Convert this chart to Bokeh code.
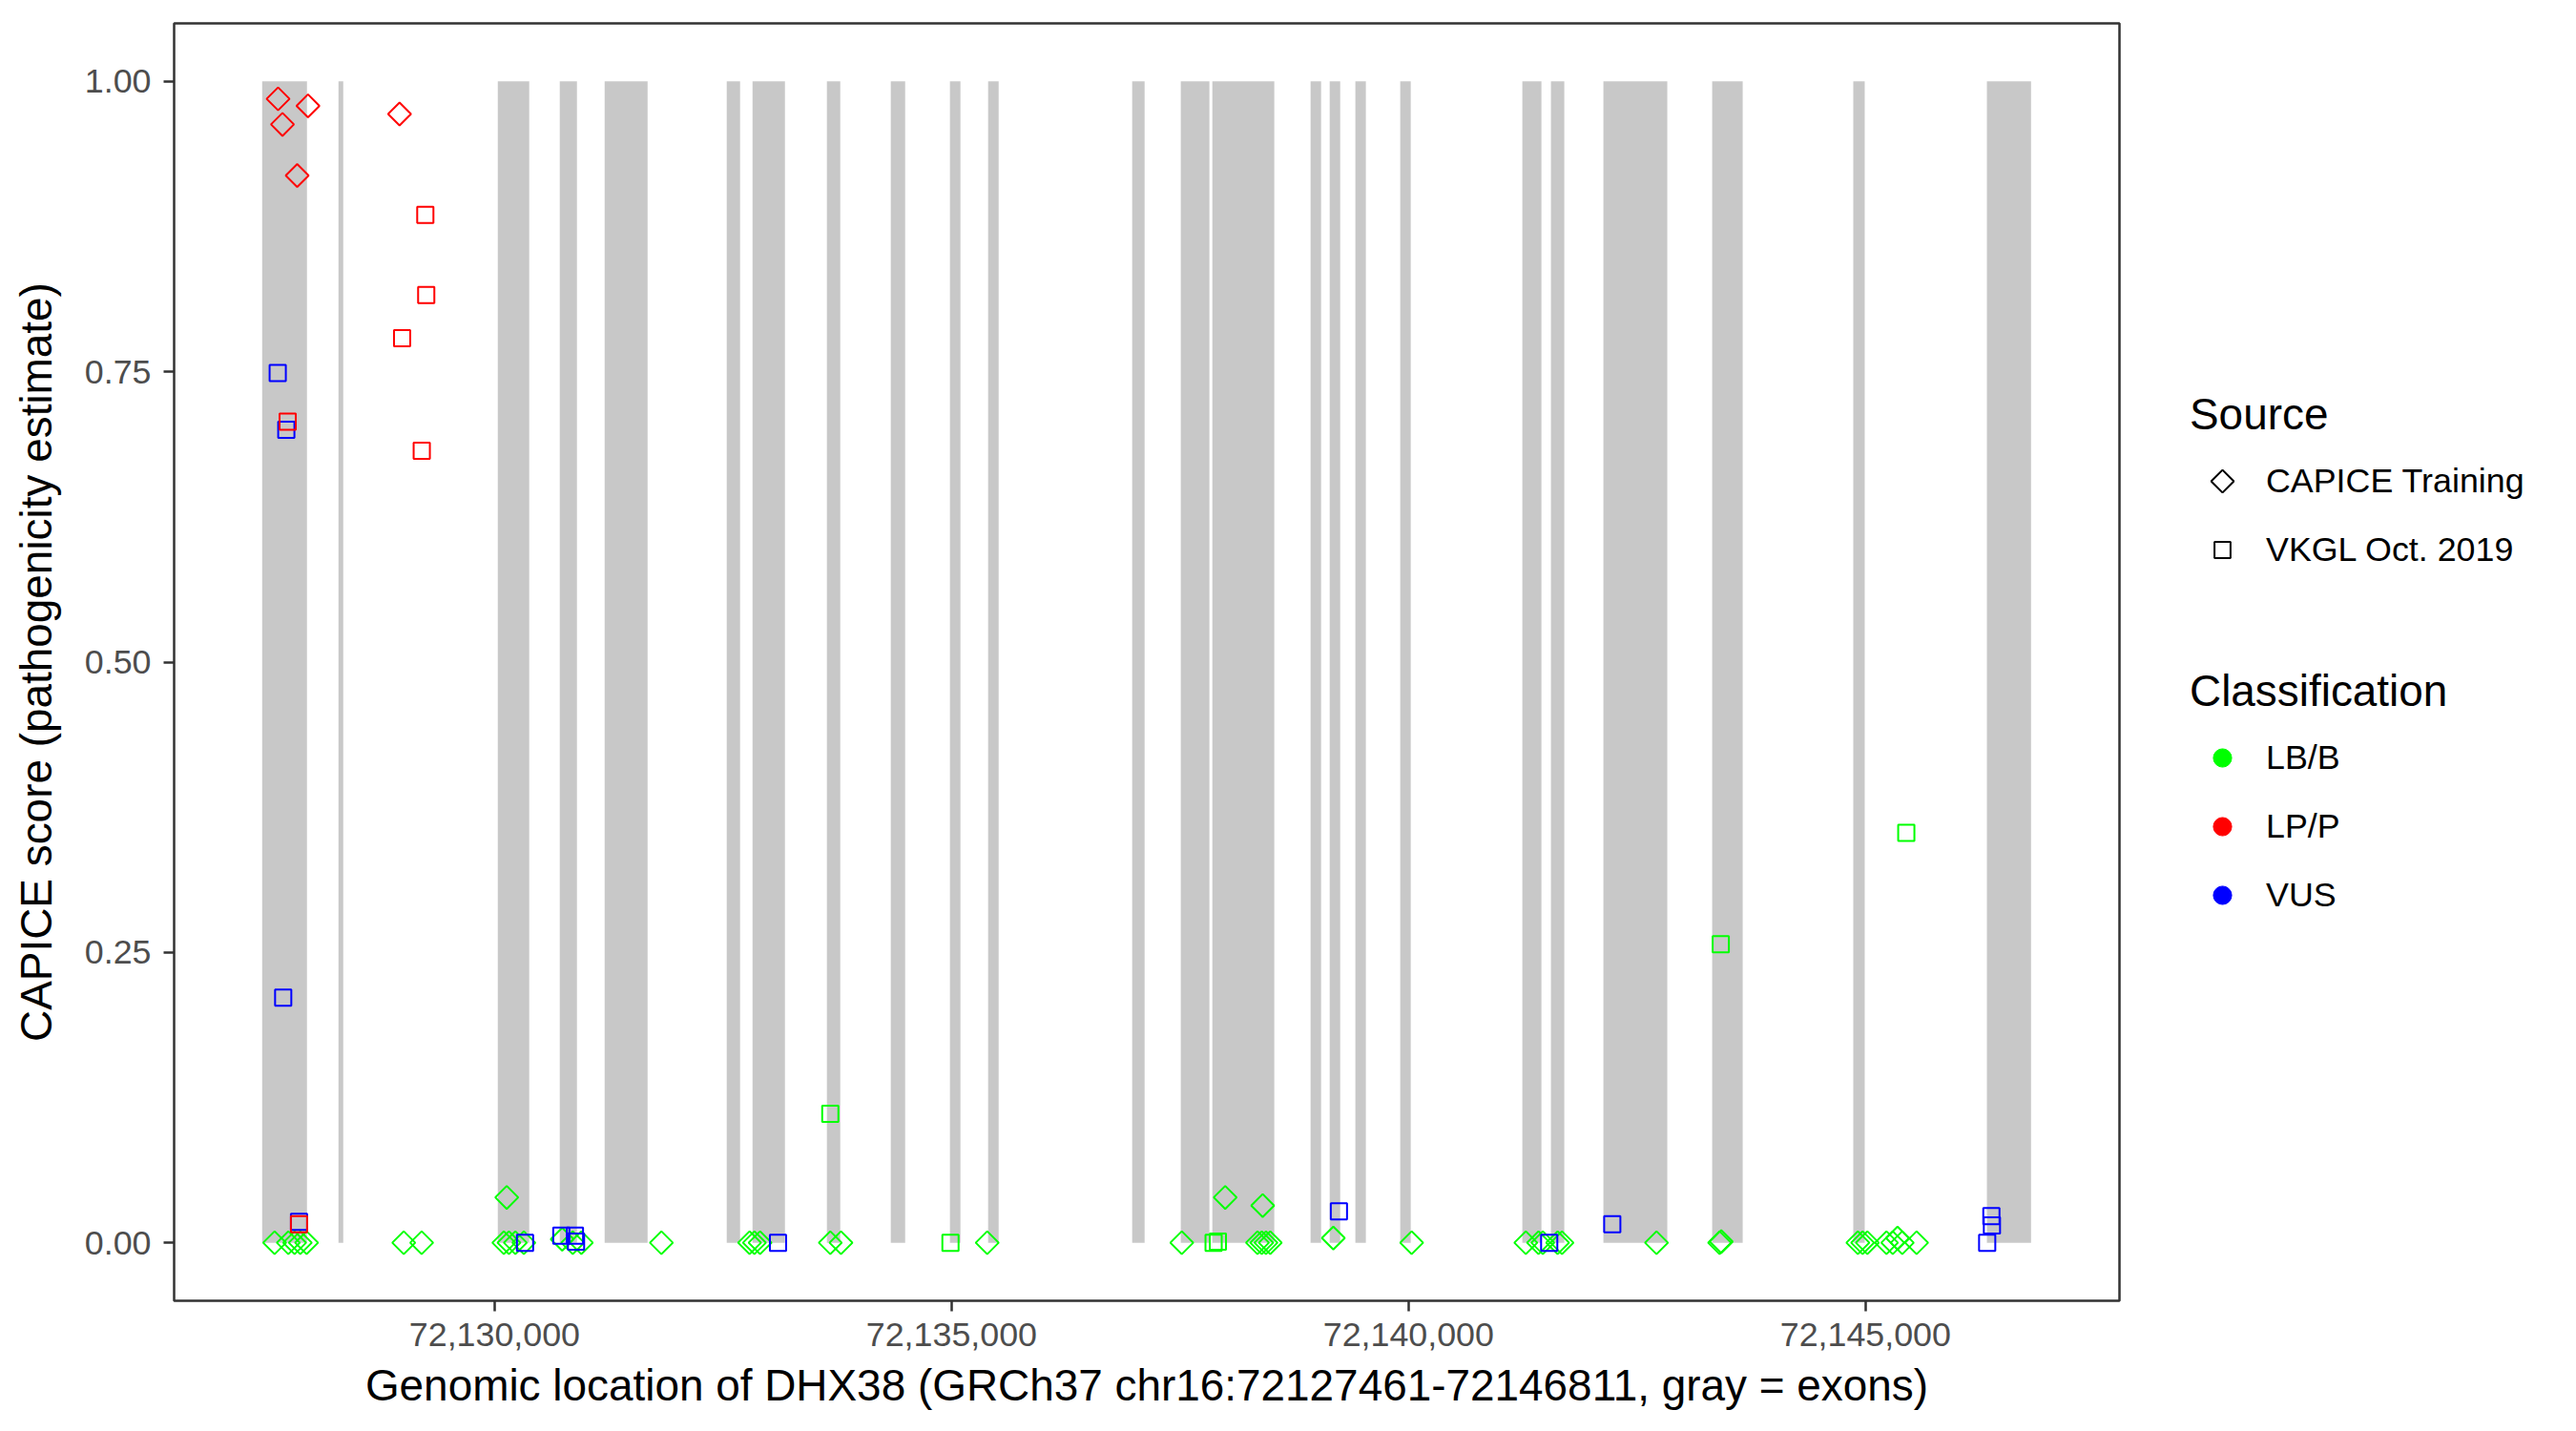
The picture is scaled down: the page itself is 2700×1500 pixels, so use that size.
import math
from bokeh.plotting import figure
from bokeh.layouts import row
from bokeh.models import (FixedTicker, NumeralTickFormatter,
                          PrintfTickFormatter, Range1d, Legend, LegendItem)
from bokeh.embed import file_html
from bokeh.resources import INLINE

# ---------------- data ----------------
gene_start = 72127461
gene_end = 72146811

exon_start = [72127457, 72128292, 72130035, 72130713, 72131204, 72132540, 72132822,
              72133636, 72134335, 72134982, 72135400, 72136976, 72137508, 72137853,
              72138928, 72139137, 72139418, 72139909, 72141245, 72141558, 72142132,
              72143322, 72144866, 72146328]
exon_end = [72127947, 72128344, 72130379, 72130901, 72131674, 72132686, 72133177,
            72133782, 72134492, 72135097, 72135515, 72137112, 72137821, 72138531,
            72139043, 72139252, 72139533, 72140024, 72141454, 72141704, 72142831,
            72143656, 72144991, 72146811]

var_pos = [
    # CAPICE Training, LB/B
    72127593, 72127743, 72127812, 72127874, 72127943, 72129006, 72129202, 72130133,
    72130101, 72130157, 72130227, 72130320, 72130740, 72130855, 72130949, 72131825,
    72132790, 72132843, 72132905, 72133673, 72133790, 72135390, 72137519, 72137994,
    72138404, 72138347, 72138394, 72138440, 72138487, 72139177, 72140034, 72141283,
    72141422, 72141469, 72141631, 72141679, 72142713, 72143403, 72143421, 72144916,
    72144968, 72145020, 72145229, 72145298, 72145350, 72145402, 72145559,
    # CAPICE Training, LP/P
    72127631, 72127958, 72127679, 72127840, 72128960,
    # VKGL, LB/B
    72133673, 72134988, 72137867, 72137914, 72143416, 72145446,
    # VKGL, VUS
    72127627, 72127721, 72127687, 72127860, 72130333, 72130730, 72130879, 72130891,
    72133101, 72139238, 72141539, 72142229, 72146377, 72146383, 72146331,
    # VKGL, LP/P
    72129242, 72129252, 72128988, 72129203, 72127736, 72127860,
]
var_score = [
    0.0, 0.0, 0.0, 0.0, 0.0, 0.0, 0.0, 0.039,
    0.0, 0.0, 0.0, 0.0, 0.003, 0.0, 0.0, 0.0,
    0.0, 0.0, 0.0, 0.0, 0.0, 0.0, 0.0, 0.039,
    0.032, 0.0, 0.0, 0.0, 0.0, 0.004, 0.0, 0.0,
    0.0, 0.0, 0.0, 0.0, 0.0, 0.0, 0.001, 0.0,
    0.0, 0.0, 0.0, 0.0, 0.004, 0.0, 0.0,
    0.985, 0.979, 0.963, 0.919, 0.972,
    0.111, 0.0, 0.0, 0.001, 0.257, 0.353,
    0.749, 0.700, 0.211, 0.018, 0.0, 0.006, 0.006, 0.001,
    0.0, 0.027, 0.0, 0.016, 0.023, 0.015, 0.0,
    0.885, 0.816, 0.779, 0.682, 0.707, 0.016,
]
var_source = (["CAPICE Training"] * 52 + ["VKGL Oct. 2019"] * 27)
var_class = (["LB/B"] * 47 + ["LP/P"] * 5 + ["LB/B"] * 6 + ["VUS"] * 15 + ["LP/P"] * 6)

sources = ["CAPICE Training", "VKGL Oct. 2019"]
classes = ["LB/B", "LP/P", "VUS"]
class_colors = {"LB/B": "#00FF00", "LP/P": "#FF0000", "VUS": "#0000FF"}
source_angle = {"CAPICE Training": math.pi / 4, "VKGL Oct. 2019": 0.0}

FONT = "Liberation Sans"
TICK_SIZE = "35.8px"
TITLE_SIZE = "45.9px"

# ---------------- main figure ----------------
W_MAIN, H = 2230, 1480
B_LEFT, B_RIGHT, B_TOP, B_BOTTOM = 182, 9, 24, 117
span = gene_end - gene_start
p = figure(width=W_MAIN, height=H, output_backend="svg", toolbar_location=None,
           x_range=Range1d(gene_start - 0.05 * span, gene_end + 0.05 * span),
           y_range=Range1d(-0.05, 1.05),
           min_border_left=B_LEFT, min_border_right=B_RIGHT,
           min_border_top=B_TOP, min_border_bottom=B_BOTTOM)
p.xgrid.visible = False
p.ygrid.visible = False
p.outline_line_color = "#333333"
p.outline_line_width = 2.5
p.background_fill_color = "white"
p.border_fill_color = "white"

# exons
p.quad(left=exon_start, right=exon_end, bottom=0, top=1,
       fill_color="#C8C8C8", line_color=None)

# variants (draw green, then blue, then red)
for cls in ["LB/B", "VUS", "LP/P"]:
    for src in sources:
        xs = [x for x, s, c in zip(var_pos, var_source, var_class) if s == src and c == cls]
        ys = [y for y, s, c in zip(var_score, var_source, var_class) if s == src and c == cls]
        if not xs:
            continue
        p.scatter(x=xs, y=ys, marker="square", size=17, angle=source_angle[src],
                  fill_color=None, line_color=class_colors[cls], line_width=2)

# axes
p.xaxis.ticker = FixedTicker(ticks=[72130000, 72135000, 72140000, 72145000])
p.xaxis.formatter = NumeralTickFormatter(format="0,0")
p.yaxis.ticker = FixedTicker(ticks=[0, 0.25, 0.5, 0.75, 1.0])
p.yaxis.formatter = PrintfTickFormatter(format="%.2f")
p.xaxis.axis_label = "Genomic location of DHX38 (GRCh37 chr16:72127461-72146811, gray = exons)"
p.yaxis.axis_label = "CAPICE score (pathogenicity estimate)"
for ax in (p.xaxis[0], p.yaxis[0]):
    ax.axis_line_color = None
    ax.major_tick_line_color = "#333333"
    ax.major_tick_line_width = 2.5
    ax.major_tick_out = 11
    ax.major_tick_in = 0
    ax.minor_tick_line_color = None
    ax.major_label_text_font = FONT
    ax.major_label_text_font_size = TICK_SIZE
    ax.major_label_text_color = "#4D4D4D"
    ax.axis_label_text_font = FONT
    ax.axis_label_text_font_size = TITLE_SIZE
    ax.axis_label_text_font_style = "normal"
    ax.axis_label_text_color = "black"
p.xaxis.major_label_standoff = 12
p.xaxis.axis_label_standoff = 12
p.yaxis.major_label_standoff = 13
p.yaxis.axis_label_standoff = 22

# ---------------- legend panel ----------------
# (its frame is aligned with the main frame by the row layout; ranges in pixels)
W_LEG = 450
FRAME_H = H - B_TOP - B_BOTTOM
lf = figure(width=W_LEG, height=H, output_backend="svg", toolbar_location=None,
            x_range=Range1d(0, W_LEG), y_range=Range1d(0, FRAME_H),
            x_axis_location=None, y_axis_location=None,
            min_border_left=0, min_border_right=0, min_border_top=B_TOP,
            min_border_bottom=B_BOTTOM)
lf.xgrid.visible = False
lf.ygrid.visible = False
lf.outline_line_color = None
lf.border_fill_color = "white"
lf.background_fill_color = "white"

LEG_X = 65
GLYPH_W, GLYPH_H, SPACING = 68, 42, 30
SRC_LEG_Y = 766
CLS_GLYPH_H, CLS_SPACING = 48, 24
CLS_LEG_Y = 401

NAN = [float("nan")]  # legend-key placeholders: one undrawable point each
src_items = []
for src in sources:
    # Bokeh legends ignore marker angle, so the rotated (diamond) key is drawn
    # separately below and its legend renderer is left transparent.
    alpha = 0.0 if source_angle[src] else 1.0
    r = lf.scatter(x=NAN, y=NAN, marker="square", size=17,
                   fill_color=None, line_color="black", line_width=2, line_alpha=alpha)
    src_items.append(LegendItem(label=src, renderers=[r]))

# rotated key for the first "Source" entry, at the centre of its legend glyph box
key_x = LEG_X + GLYPH_W / 2
key_y = SRC_LEG_Y + (len(sources) - 1) * (GLYPH_H + SPACING) + GLYPH_H / 2
lf.scatter(x=[key_x], y=[key_y], marker="square", angle=source_angle[sources[0]],
           size=0.4 * min(GLYPH_W, GLYPH_H), fill_color=None, line_color="black", line_width=2)

cls_items = []
for cls in classes:
    r = lf.scatter(x=NAN, y=NAN, marker="circle", size=18,
                   fill_color=class_colors[cls], line_color=class_colors[cls])
    cls_items.append(LegendItem(label=cls, renderers=[r]))


def make_legend(title, items, loc, glyph_h, spacing, title_standoff):
    lg = Legend(title=title, items=items, location=loc)
    lg.title_text_font = FONT
    lg.title_text_font_size = TITLE_SIZE
    lg.title_text_font_style = "normal"
    lg.title_text_color = "black"
    lg.title_standoff = title_standoff
    lg.label_text_font = FONT
    lg.label_text_font_size = TICK_SIZE
    lg.label_text_color = "black"
    lg.glyph_width = GLYPH_W
    lg.glyph_height = glyph_h
    lg.label_height = glyph_h
    lg.label_standoff = 12
    lg.spacing = spacing
    lg.padding = 0
    lg.margin = 0
    lg.border_line_color = None
    lg.background_fill_alpha = 0
    return lg


lf.add_layout(make_legend("Source", src_items, (LEG_X, SRC_LEG_Y), GLYPH_H, SPACING, 22))
lf.add_layout(make_legend("Classification", cls_items, (LEG_X, CLS_LEG_Y),
                          CLS_GLYPH_H, CLS_SPACING, 19))

open("out.html", "w").write(file_html(row(p, lf), INLINE))
